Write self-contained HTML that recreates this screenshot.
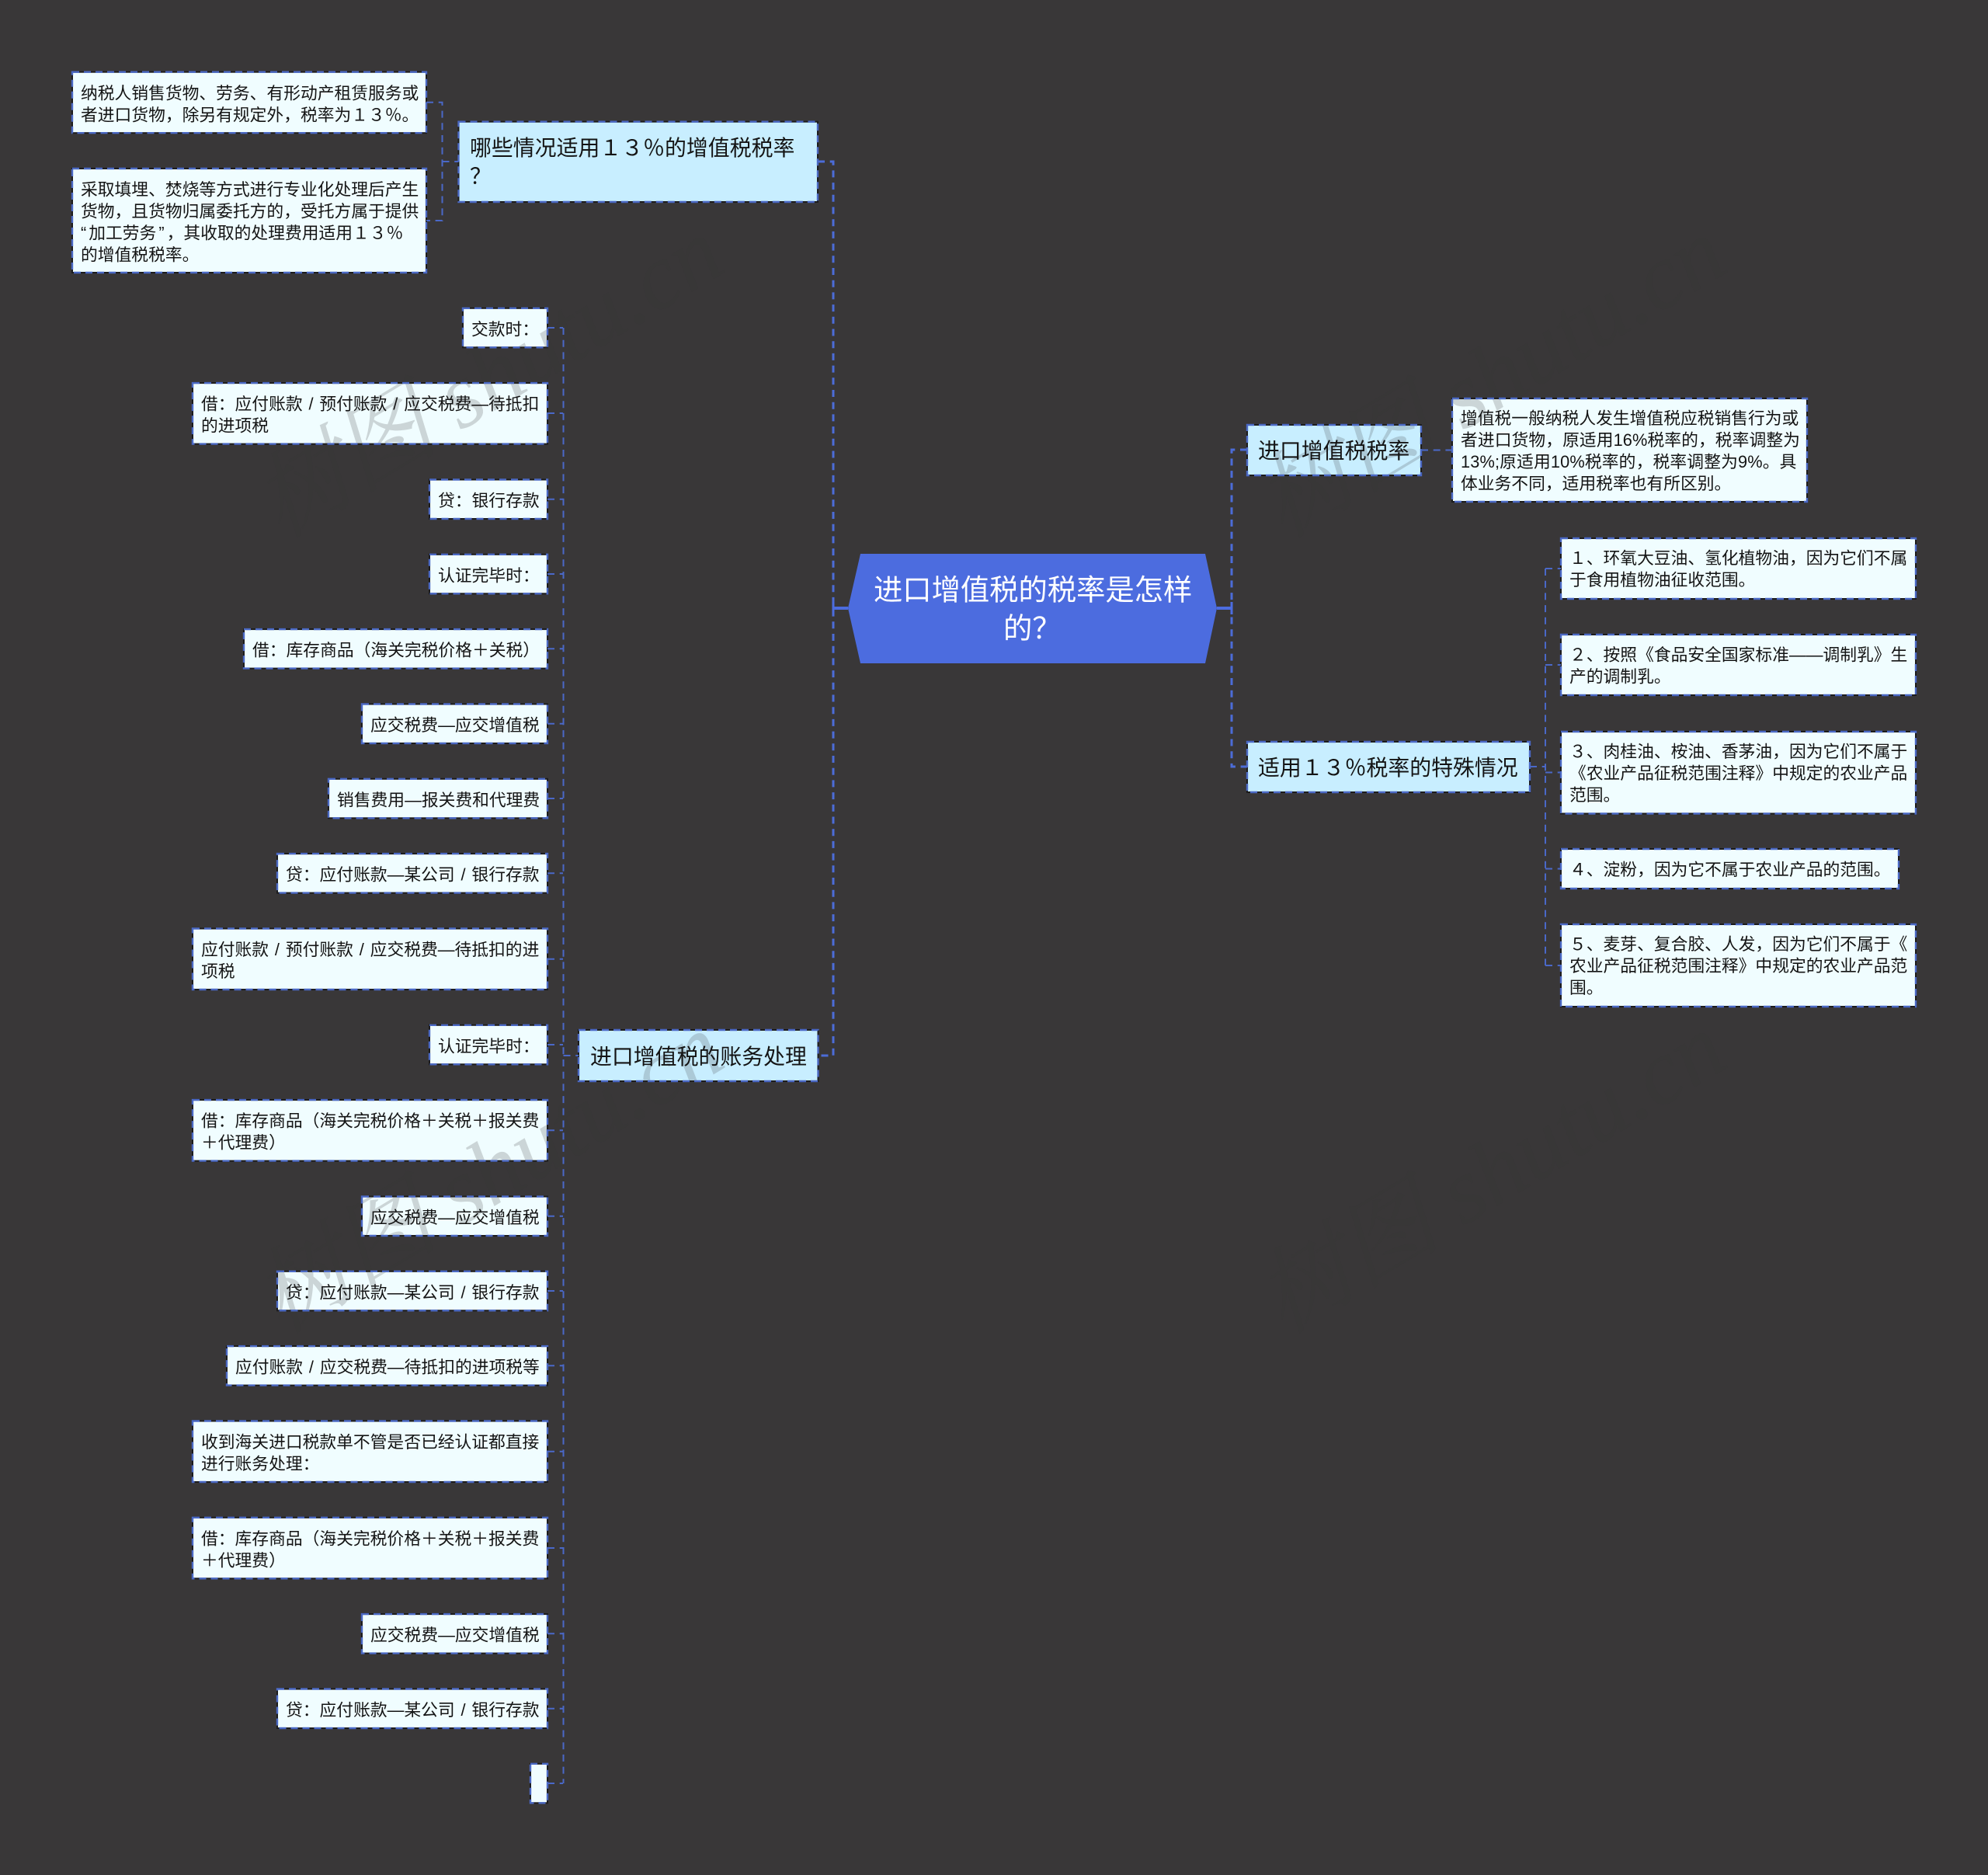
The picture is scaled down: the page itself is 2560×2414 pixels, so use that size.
<!DOCTYPE html>
<html lang="zh-CN">
<head>
<meta charset="utf-8">
<title>进口增值税的税率是怎样的？</title>
<style>
html,body{margin:0;padding:0;background:#393738;}
body{width:2560px;height:2414px;overflow:hidden;}
svg{display:block;}
text{font-family:"Liberation Sans","Noto Sans CJK SC",sans-serif;white-space:pre;}
.t{font-size:21.77px;fill:#141414;}
.m{font-size:27.9px;fill:#141414;}
.r{font-size:37.3px;fill:#fff;}
.wm{font-family:"Liberation Serif","Noto Serif CJK SC",serif;font-style:italic;font-size:120px;fill:rgba(55,53,54,.2);}
.f1 rect{fill:#f0fdff;stroke:#1c1c1e;stroke-width:2;}
.f2 rect{fill:#c8eeff;stroke:#1c1c1e;stroke-width:2;}
.b rect{fill:none;stroke:#4a68c4;stroke-width:2.4;stroke-dasharray:9 6;}
.l1{fill:none;stroke:#4c6cd8;stroke-width:3;stroke-dasharray:9 6.7;}
.l2{fill:none;stroke:#4a68c8;stroke-width:2;stroke-dasharray:9 6.7;}
</style>
</head>
<body>
<svg xmlns="http://www.w3.org/2000/svg" width="2560" height="2414" viewBox="0 0 2560 2414">
<rect width="2560" height="2414" fill="#393738"/>

<!-- fills -->
<g class="f1">
<rect x="93" y="92.7" width="456" height="78.5"/>
<rect x="93" y="217" width="456" height="134"/>
<rect x="596" y="396.8" width="109" height="50.5"/>
<rect x="248" y="493.1" width="457" height="78.5"/>
<rect x="553" y="617.5" width="152" height="50.5"/>
<rect x="553" y="713.8" width="152" height="50.5"/>
<rect x="314" y="810.1" width="391" height="50.5"/>
<rect x="466" y="906.5" width="239" height="50.5"/>
<rect x="423" y="1002.8" width="282" height="50.5"/>
<rect x="357" y="1099.1" width="348" height="50.5"/>
<rect x="248" y="1195.5" width="457" height="78.5"/>
<rect x="553" y="1319.8" width="152" height="50.5"/>
<rect x="248" y="1416.1" width="457" height="78.5"/>
<rect x="466" y="1540.5" width="239" height="50.5"/>
<rect x="357" y="1636.8" width="348" height="50.5"/>
<rect x="292" y="1733.1" width="413" height="50.5"/>
<rect x="248" y="1829.5" width="457" height="78.5"/>
<rect x="248" y="1953.8" width="457" height="78.5"/>
<rect x="466" y="2078.1" width="239" height="50.5"/>
<rect x="357" y="2174.5" width="348" height="50.5"/>
<rect x="683" y="2270.8" width="22" height="50.5"/>
<rect x="1870" y="513" width="457" height="133"/>
<rect x="2010" y="693" width="457" height="78"/>
<rect x="2010" y="817" width="457" height="78"/>
<rect x="2010" y="942" width="457" height="105.5"/>
<rect x="2010" y="1093" width="435" height="51"/>
<rect x="2010" y="1190" width="457" height="106"/>
</g>
<g class="f2">
<rect x="590.5" y="156.7" width="462.5" height="103.3"/>
<rect x="745" y="1326" width="308.5" height="66"/>
<rect x="1606" y="547" width="224" height="65"/>
<rect x="1606" y="955" width="364" height="65"/>
</g>

<!-- watermarks -->
<text class="wm" x="635" y="525" text-anchor="middle" transform="rotate(-31 635 496)">树图 shutu.cn</text>
<text class="wm" x="635" y="1549" text-anchor="middle" transform="rotate(-31 635 1520)">树图 shutu.cn</text>
<text class="wm" x="1926" y="525" text-anchor="middle" transform="rotate(-31 1926 496)">树图 shutu.cn</text>
<text class="wm" x="1926" y="1549" text-anchor="middle" transform="rotate(-31 1926 1520)">树图 shutu.cn</text>

<!-- connectors -->
<g>
<path class="l1" d="M1053 208H1073V1359H1053"/>
<path class="l1" d="M1606 579H1586V987H1606"/>
<path d="M1073 783H1092M1567 783H1586" stroke="#4c6cdf" stroke-width="4" fill="none"/>
<path d="M1073 775V791M1586 775V791" stroke="#4c6cdf" stroke-width="3" fill="none"/>
<path class="l2" d="M549 131.7H569.5V284H549"/>
<path class="l2" d="M569.5 208H590.5"/>
<path class="l2" d="M725.5 422V2296"/>
<path class="l2" d="M725.5 1359H745"/>
<path class="l2" d="M705 422H725M705 532H725M705 642.7H725M705 739H725M705 835.3H725M705 931.7H725M705 1028H725M705 1124.3H725M705 1234.7H725M705 1345H725M705 1455.3H725M705 1565.7H725M705 1662H725M705 1758.3H725M705 1868.7H725M705 1993H725M705 2103.3H725M705 2199.7H725M705 2296H725"/>
<path class="l2" d="M1830 579.5H1870"/>
<path class="l2" d="M1970 987H1990"/>
<path class="l2" d="M1990 732V1243"/>
<path class="l2" d="M1990 732H2010M1990 856H2010M1990 994.5H2010M1990 1118.5H2010M1990 1243H2010"/>
</g>

<!-- root -->
<polygon points="1108,713 1552,713 1567,783 1552,854 1108,854 1092,783" fill="#4c6cdf"/>
<text class="r" x="1125" y="772.5">进口增值税的税率是怎样</text>
<text class="r" x="1292" y="822">的？</text>

<!-- dashed borders -->
<g class="b">
<rect x="93" y="92.7" width="456" height="78.5"/>
<rect x="93" y="217" width="456" height="134"/>
<rect x="596" y="396.8" width="109" height="50.5"/>
<rect x="248" y="493.1" width="457" height="78.5"/>
<rect x="553" y="617.5" width="152" height="50.5"/>
<rect x="553" y="713.8" width="152" height="50.5"/>
<rect x="314" y="810.1" width="391" height="50.5"/>
<rect x="466" y="906.5" width="239" height="50.5"/>
<rect x="423" y="1002.8" width="282" height="50.5"/>
<rect x="357" y="1099.1" width="348" height="50.5"/>
<rect x="248" y="1195.5" width="457" height="78.5"/>
<rect x="553" y="1319.8" width="152" height="50.5"/>
<rect x="248" y="1416.1" width="457" height="78.5"/>
<rect x="466" y="1540.5" width="239" height="50.5"/>
<rect x="357" y="1636.8" width="348" height="50.5"/>
<rect x="292" y="1733.1" width="413" height="50.5"/>
<rect x="248" y="1829.5" width="457" height="78.5"/>
<rect x="248" y="1953.8" width="457" height="78.5"/>
<rect x="466" y="2078.1" width="239" height="50.5"/>
<rect x="357" y="2174.5" width="348" height="50.5"/>
<rect x="683" y="2270.8" width="22" height="50.5"/>
<rect x="1870" y="513" width="457" height="133"/>
<rect x="2010" y="693" width="457" height="78"/>
<rect x="2010" y="817" width="457" height="78"/>
<rect x="2010" y="942" width="457" height="105.5"/>
<rect x="2010" y="1093" width="435" height="51"/>
<rect x="2010" y="1190" width="457" height="106"/>
<rect x="590.5" y="156.7" width="462.5" height="103.3"/>
<rect x="745" y="1326" width="308.5" height="66"/>
<rect x="1606" y="547" width="224" height="65"/>
<rect x="1606" y="955" width="364" height="65"/>
</g>

<!-- level 1 labels -->
<text class="m" x="605" y="200">哪些情况适用１３％的增值税税率</text>
<text class="m" x="605" y="236.5">？</text>
<text class="m" x="760" y="1370">进口增值税的账务处理</text>
<text class="m" x="1620" y="590">进口增值税税率</text>
<text class="m" x="1620" y="998">适用１３％税率的特殊情况</text>

<!-- left top leaves -->
<text class="t" x="104" y="127.5">纳税人销售货物、劳务、有形动产租赁服务或</text>
<text class="t" x="104" y="155.5">者进口货物，除另有规定外，税率为１３％。</text>
<text class="t" x="104" y="251.5">采取填埋、焚烧等方式进行专业化处理后产生</text>
<text class="t" x="104" y="279.5">货物，且货物归属委托方的，受托方属于提供</text>
<text class="t" x="104" y="307.5">“<tspan dx="3">加工劳务</tspan><tspan dx="3">”</tspan><tspan dx="3">，其收取的处理费用适用１３％</tspan></text>
<text class="t" x="104" y="335.5">的增值税税率。</text>

<!-- accounting leaves -->
<text class="t" x="607" y="431.5">交款时：</text>
<text class="t" x="259" y="527.5">借：应付账款<tspan dx="7.85">/</tspan><tspan dx="7.85">预付账款</tspan><tspan dx="7.85">/</tspan><tspan dx="7.85">应交税费—待抵扣</tspan></text>
<text class="t" x="259" y="555.5">的进项税</text>
<text class="t" x="564" y="652">贷：银行存款</text>
<text class="t" x="564" y="748.3">认证完毕时：</text>
<text class="t" x="325" y="844.5">借：库存商品（海关完税价格＋关税）</text>
<text class="t" x="477" y="941">应交税费—应交增值税</text>
<text class="t" x="434" y="1037.3">销售费用—报关费和代理费</text>
<text class="t" x="368" y="1133.5">贷：应付账款—某公司<tspan dx="7.85">/</tspan><tspan dx="7.85">银行存款</tspan></text>
<text class="t" x="259" y="1230">应付账款<tspan dx="7.85">/</tspan><tspan dx="7.85">预付账款</tspan><tspan dx="7.85">/</tspan><tspan dx="7.85">应交税费—待抵扣的进</tspan></text>
<text class="t" x="259" y="1258">项税</text>
<text class="t" x="564" y="1354.3">认证完毕时：</text>
<text class="t" x="259" y="1450.5">借：库存商品（海关完税价格＋关税＋报关费</text>
<text class="t" x="259" y="1478.5">＋代理费）</text>
<text class="t" x="477" y="1575">应交税费—应交增值税</text>
<text class="t" x="368" y="1671.3">贷：应付账款—某公司<tspan dx="7.85">/</tspan><tspan dx="7.85">银行存款</tspan></text>
<text class="t" x="303" y="1767.5">应付账款<tspan dx="7.85">/</tspan><tspan dx="7.85">应交税费—待抵扣的进项税等</tspan></text>
<text class="t" x="259" y="1864">收到海关进口税款单不管是否已经认证都直接</text>
<text class="t" x="259" y="1892">进行账务处理：</text>
<text class="t" x="259" y="1988.3">借：库存商品（海关完税价格＋关税＋报关费</text>
<text class="t" x="259" y="2016.3">＋代理费）</text>
<text class="t" x="477" y="2112.5">应交税费—应交增值税</text>
<text class="t" x="368" y="2209">贷：应付账款—某公司<tspan dx="7.85">/</tspan><tspan dx="7.85">银行存款</tspan></text>

<!-- right leaves -->
<text class="t" x="1881" y="546">增值税一般纳税人发生增值税应税销售行为或</text>
<text class="t" x="1881" y="574" style="letter-spacing:.08px">者进口货物，原适用16%税率的，税率调整为</text>
<text class="t" x="1881" y="602" style="letter-spacing:.14px">13%;原适用10%税率的，税率调整为9%。具</text>
<text class="t" x="1881" y="630">体业务不同，适用税率也有所区别。</text>

<text class="t" x="2021" y="726">１、环氧大豆油、氢化植物油，因为它们不属</text>
<text class="t" x="2021" y="754">于食用植物油征收范围。</text>
<text class="t" x="2021" y="850.5">２、按照《食品安全国家标准——调制乳》生</text>
<text class="t" x="2021" y="878.5">产的调制乳。</text>
<text class="t" x="2021" y="975">３、肉桂油、桉油、香茅油，因为它们不属于</text>
<text class="t" x="2021" y="1003">《农业产品征税范围注释》中规定的农业产品</text>
<text class="t" x="2021" y="1031">范围。</text>
<text class="t" x="2021" y="1127">４、淀粉，因为它不属于农业产品的范围。</text>
<text class="t" x="2021" y="1223">５、麦芽、复合胶、人发，因为它们不属于《</text>
<text class="t" x="2021" y="1251">农业产品征税范围注释》中规定的农业产品范</text>
<text class="t" x="2021" y="1279">围。</text>
</svg>
</body>
</html>
